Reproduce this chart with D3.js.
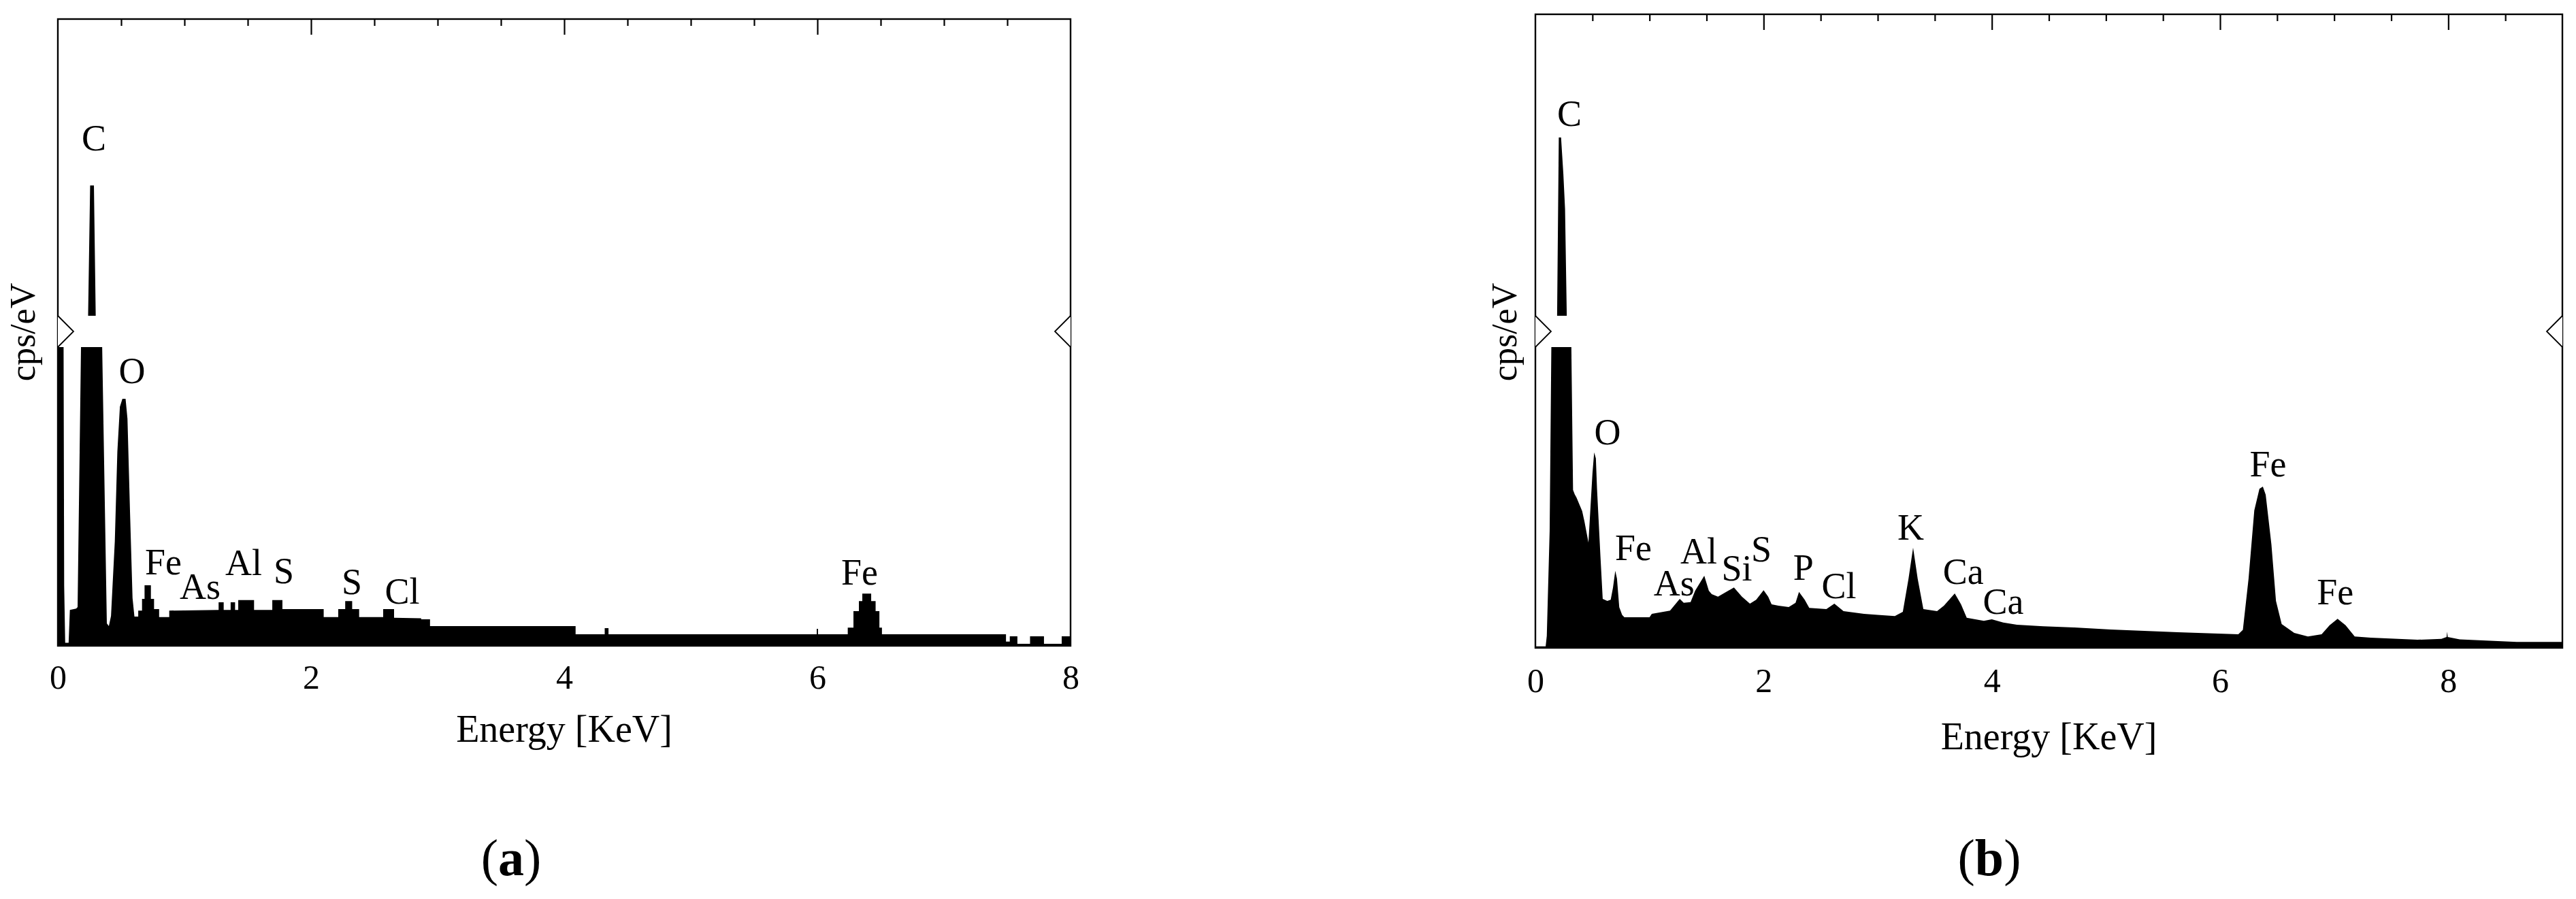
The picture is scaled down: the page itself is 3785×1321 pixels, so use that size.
<!DOCTYPE html>
<html>
<head>
<meta charset="utf-8">
<script src="https://cdn.jsdelivr.net/npm/d3@7"></script>
<style>
body { margin: 0; background: #fff; }
svg text { font-family: "Liberation Serif", "Times New Roman", serif; fill: #000; }
</style>
</head>
<body>
<svg id="chart" width="3785" height="1321"></svg>
<script>
// EDS spectra, [energy keV, cps/eV]. y axis is broken between 10 and 12.
var spectrumA = [
    [0.000, 11], [0.045, 11], [0.050, 2.0], [0.058, 0.1], [0.085, 0.1], [0.095, 1.2],
    [0.145, 1.25], [0.156, 1.3], [0.183, 10.1], [0.200, 11], [0.238, 11.5], [0.255, 24.3],
    [0.285, 24.3], [0.300, 11.5], [0.340, 11], [0.350, 10.1], [0.387, 0.75], [0.403, 0.66],
    [0.420, 1.0], [0.450, 3.5], [0.470, 6.5], [0.490, 8.0], [0.510, 8.27], [0.535, 8.27],
    [0.550, 7.6], [0.570, 4.5], [0.590, 1.6], [0.605, 0.98], [0.635, 0.98], [0.635, 1.18],
    [0.665, 1.18], [0.665, 1.57], [0.685, 1.57], [0.685, 2.03], [0.735, 2.03], [0.735, 1.57],
    [0.760, 1.57], [0.760, 1.23], [0.800, 1.23], [0.800, 0.96], [0.880, 0.96], [0.880, 1.18],
    [1.270, 1.20], [1.270, 1.46], [1.310, 1.46], [1.310, 1.20], [1.365, 1.20], [1.365, 1.46],
    [1.400, 1.46], [1.400, 1.20], [1.425, 1.20], [1.425, 1.53], [1.550, 1.53], [1.550, 1.20],
    [1.694, 1.20], [1.694, 1.53], [1.774, 1.53], [1.774, 1.23], [2.100, 1.23], [2.100, 0.96],
    [2.215, 0.96], [2.215, 1.23], [2.270, 1.23], [2.270, 1.50], [2.325, 1.50], [2.325, 1.23],
    [2.380, 1.23], [2.380, 0.96], [2.570, 0.96], [2.570, 1.23], [2.656, 1.23], [2.656, 0.94],
    [2.870, 0.92], [2.870, 0.89], [2.940, 0.89], [2.940, 0.66], [4.090, 0.66], [4.090, 0.39],
    [4.320, 0.39], [4.320, 0.59], [4.350, 0.59], [4.350, 0.39], [5.995, 0.39], [5.995, 0.57],
    [6.005, 0.57], [6.005, 0.39], [6.240, 0.39], [6.240, 0.61], [6.285, 0.61], [6.285, 1.16],
    [6.328, 1.16], [6.328, 1.50], [6.355, 1.50], [6.355, 1.75], [6.425, 1.75], [6.425, 1.50],
    [6.460, 1.50], [6.460, 1.16], [6.490, 1.16], [6.490, 0.61], [6.510, 0.61], [6.510, 0.39],
    [7.490, 0.39], [7.490, 0.14], [7.520, 0.14], [7.520, 0.32], [7.580, 0.32], [7.580, 0.07],
    [7.680, 0.07], [7.680, 0.32], [7.790, 0.32], [7.790, 0.07], [7.930, 0.07], [7.930, 0.32],
    [8.000, 0.32]
];

var spectrumB = [
    [0.000, 0.05], [0.090, 0.05], [0.100, 0.4], [0.125, 3.9], [0.140, 10.2], [0.170, 11],
    [0.190, 11.8], [0.205, 28.56], [0.225, 28.56], [0.245, 25.2], [0.260, 21.9], [0.275, 12],
    [0.300, 11], [0.315, 10.1], [0.330, 5.25], [0.345, 5.1], [0.360, 5.0], [0.410, 4.55],
    [0.430, 4.2], [0.450, 3.8], [0.465, 3.5], [0.500, 5.8], [0.515, 6.5], [0.530, 6.3],
    [0.540, 5.3], [0.570, 3.05], [0.590, 1.63], [0.630, 1.56], [0.660, 1.60], [0.680, 2.0],
    [0.700, 2.56], [0.715, 2.3], [0.735, 1.35], [0.760, 1.10], [0.780, 1.02], [1.000, 1.02],
    [1.020, 1.13], [1.180, 1.24], [1.265, 1.63], [1.300, 1.50], [1.360, 1.52], [1.400, 1.90],
    [1.480, 2.40], [1.520, 1.90], [1.545, 1.79], [1.600, 1.70], [1.740, 2.01], [1.810, 1.70],
    [1.880, 1.47], [1.935, 1.60], [2.000, 1.92], [2.040, 1.70], [2.070, 1.45], [2.130, 1.40],
    [2.220, 1.36], [2.280, 1.50], [2.310, 1.86], [2.360, 1.60], [2.400, 1.33], [2.550, 1.29],
    [2.620, 1.47], [2.700, 1.22], [2.880, 1.13], [3.000, 1.10], [3.150, 1.06], [3.220, 1.20],
    [3.270, 2.30], [3.310, 3.33], [3.350, 2.30], [3.400, 1.29], [3.520, 1.22], [3.580, 1.40],
    [3.675, 1.81], [3.730, 1.45], [3.780, 1.00], [3.930, 0.90], [4.000, 0.95], [4.100, 0.84],
    [4.220, 0.77], [4.450, 0.72], [4.720, 0.68], [5.040, 0.61], [5.630, 0.52], [6.160, 0.45],
    [6.200, 0.60], [6.250, 2.31], [6.300, 4.57], [6.345, 5.29], [6.375, 5.36], [6.400, 5.09],
    [6.450, 3.44], [6.490, 1.56], [6.540, 0.79], [6.650, 0.50], [6.770, 0.38], [6.890, 0.45],
    [6.960, 0.75], [7.030, 0.97], [7.100, 0.75], [7.180, 0.38], [7.320, 0.34], [7.730, 0.27],
    [7.940, 0.30], [7.985, 0.36], [7.990, 0.54], [7.995, 0.36], [8.100, 0.28], [8.600, 0.20],
    [9.000, 0.20]
];

// peak labels: [element, energy, height of text baseline]
var labelsA = [
    ["C", 0.285, 27.6], ["O", 0.586, 8.79], ["Fe", 0.833, 2.39], ["As", 1.124, 1.57],
    ["Al", 1.468, 2.37], ["S", 1.785, 2.10], ["S", 2.323, 1.73], ["Cl", 2.720, 1.41],
    ["Fe", 6.333, 2.05]
];
var labelsB = [
    ["C", 0.298, 29.64], ["O", 0.632, 6.76], ["Fe", 0.859, 2.92], ["As", 1.216, 1.74],
    ["Al", 1.431, 2.81], ["Si", 1.765, 2.24], ["S", 1.980, 2.87], ["P", 2.349, 2.26],
    ["Cl", 2.660, 1.65], ["K", 3.290, 3.60], ["Ca", 3.750, 2.13], ["Ca", 4.100, 1.13],
    ["Fe", 6.420, 5.70], ["Fe", 7.010, 1.45]
];

var tickLabelsA = [0, 2, 4, 6, 8];
var tickLabelsB = [0, 2, 4, 6, 8];
var maxEnergyA = 8, maxEnergyB = 9;
var breakLow = 10, breakHigh = 12, yMax = 40;

var svg = d3.select("#chart");

drawPanel({
    id: "a", data: spectrumA, labels: labelsA, ticks: tickLabelsA, maxE: maxEnergyA,
    left: 85, right: 1573, top: 28, bottom: 949, gapTop: 464, gapBottom: 510,
    tickPad: 27, yLabelX: 51, titleY: 1090, panelX: 751
});
drawPanel({
    id: "b", data: spectrumB, labels: labelsB, ticks: tickLabelsB, maxE: maxEnergyB,
    left: 2256, right: 3765, top: 21, bottom: 952, gapTop: 464, gapBottom: 510,
    tickPad: 29, yLabelX: 2228, titleY: 1101, panelX: 2923
});

function drawPanel(p) {
    var x = d3.scaleLinear().domain([0, p.maxE]).range([p.left, p.right]);
    // broken axis: lower part 0..breakLow, upper part breakHigh..yMax
    var y = d3.scaleLinear()
        .domain([0, breakLow, breakHigh, yMax])
        .range([p.bottom, p.gapBottom, p.gapTop, p.top]);

    var g = svg.append("g");

    var clip = svg.append("clipPath").attr("id", "clip-" + p.id);
    clip.append("rect")
        .attr("x", p.left).attr("y", p.top)
        .attr("width", p.right - p.left).attr("height", p.gapTop - p.top);
    clip.append("rect")
        .attr("x", p.left).attr("y", p.gapBottom)
        .attr("width", p.right - p.left).attr("height", p.bottom - p.gapBottom);

    var area = d3.area()
        .x(function(d) { return x(d[0]); })
        .y0(y(0))
        .y1(function(d) { return y(d[1]); });

    g.append("path")
        .datum(p.data)
        .attr("clip-path", "url(#clip-" + p.id + ")")
        .attr("d", area)
        .attr("fill", "#000");

    // top ticks, minor every 0.5 keV, major every 2 keV
    var minor = d3.range(0.5, p.maxE, 0.5).filter(function(v) { return v % 2 != 0; });
    var major = d3.range(2, p.maxE, 2);
    var topMinor = g.append("g").attr("transform", "translate(0," + p.top + ")")
        .call(d3.axisTop(x).tickValues(minor).tickSize(-10).tickFormat(""));
    var topMajor = g.append("g").attr("transform", "translate(0," + p.top + ")")
        .call(d3.axisTop(x).tickValues(major).tickSize(-23).tickFormat(""));
    [topMinor, topMajor].forEach(function(a) {
        a.select(".domain").remove();
        a.selectAll("line").attr("stroke", "#000").attr("stroke-width", 2.2);
    });

    var bottomAxis = g.append("g").attr("transform", "translate(0," + p.bottom + ")")
        .call(d3.axisBottom(x).tickValues(p.ticks).tickSize(0).tickPadding(p.tickPad)
            .tickFormat(d3.format("d")));
    bottomAxis.select(".domain").remove();
    bottomAxis.selectAll("text")
        .style("font-family", "'Liberation Serif', serif")
        .style("font-size", "50px")
        .attr("fill", "#000");

    // frame
    g.append("rect")
        .attr("x", p.left).attr("y", p.top)
        .attr("width", p.right - p.left).attr("height", p.bottom - p.top)
        .attr("fill", "none").attr("stroke", "#000").attr("stroke-width", 2.4);

    // axis break markers
    var mid = (p.gapTop + p.gapBottom) / 2;
    g.append("path")
        .attr("d", "M" + p.left + "," + p.gapTop + "L" + (p.left + 23) + "," + mid + "L" + p.left + "," + p.gapBottom)
        .attr("fill", "#fff").attr("stroke", "#000").attr("stroke-width", 1.8);
    g.append("path")
        .attr("d", "M" + p.right + "," + p.gapTop + "L" + (p.right - 23) + "," + mid + "L" + p.right + "," + p.gapBottom)
        .attr("fill", "#fff").attr("stroke", "#000").attr("stroke-width", 1.8);

    g.selectAll(".peak")
        .data(p.labels)
        .enter().append("text")
        .attr("class", "peak")
        .attr("x", function(d) { return x(d[1]); })
        .attr("y", function(d) { return y(d[2]); })
        .attr("text-anchor", "middle")
        .style("font-size", "54px")
        .text(function(d) { return d[0]; });

    g.append("text")
        .attr("transform", "translate(" + p.yLabelX + "," + 488 + ") rotate(-90)")
        .attr("text-anchor", "middle")
        .style("font-size", "52px")
        .text("cps/eV");

    g.append("text")
        .attr("x", (p.left + p.right) / 2)
        .attr("y", p.titleY)
        .attr("text-anchor", "middle")
        .style("font-size", "56px")
        .text("Energy [KeV]");

    var lab = g.append("text")
        .attr("x", p.panelX)
        .attr("y", 1286)
        .attr("text-anchor", "middle")
        .style("font-size", "76px");
    lab.append("tspan").text("(");
    lab.append("tspan").attr("font-weight", "bold").text(p.id);
    lab.append("tspan").text(")");
}
</script>
</body>
</html>
